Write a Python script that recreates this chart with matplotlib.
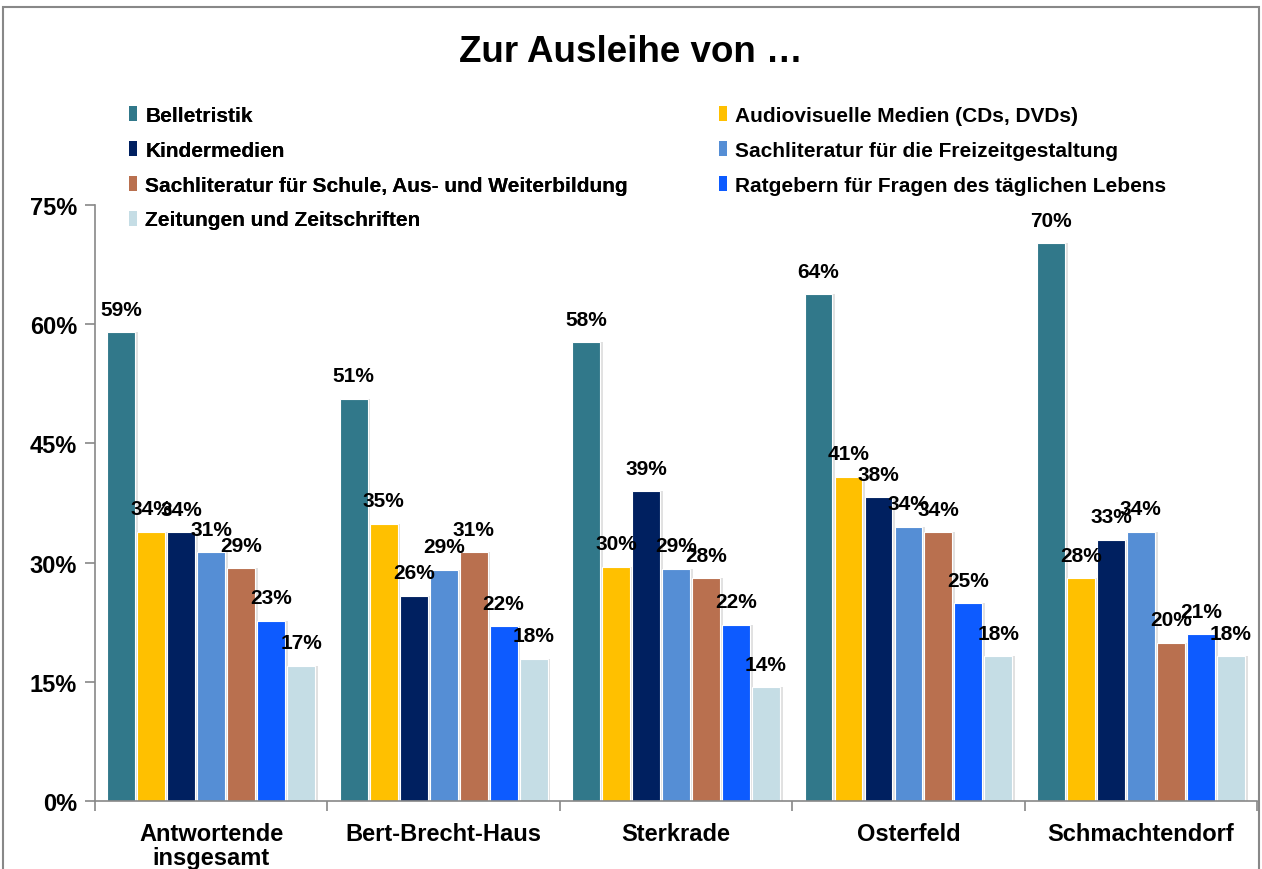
import matplotlib.pyplot as plt
from matplotlib.patches import Patch, Rectangle
import numpy as np

plt.rcParams['font.family'] = ['Liberation Sans', 'DejaVu Sans']
plt.rcParams['font.weight'] = 'bold'

groups = ['Antwortende\ninsgesamt', 'Bert-Brecht-Haus', 'Sterkrade', 'Osterfeld', 'Schmachtendorf']
series = ['Belletristik', 'Audiovisuelle Medien (CDs, DVDs)', 'Kindermedien',
          'Sachliteratur für die Freizeitgestaltung',
          'Sachliteratur für Schule, Aus- und Weiterbildung',
          'Ratgebern für Fragen des täglichen Lebens', 'Zeitungen und Zeitschriften']
colors = ['#31788A', '#FFC000', '#002060', '#558ED5', '#B9704F', '#0D5BFF', '#C5DDE5']

belletristik = [59.0, 50.6, 57.7, 63.8, 70.2]
audiovisuell = [33.9, 34.9, 29.5, 40.8, 28.0]
kindermedien = [33.8, 25.8, 39.0, 38.2, 32.9]
freizeit     = [31.3, 29.1, 29.2, 34.5, 33.9]
schule       = [29.3, 31.3, 28.0, 33.8, 19.9]
ratgeber     = [22.7, 22.0, 22.2, 24.9, 21.0]
zeitungen    = [17.0, 17.9, 14.3, 18.2, 18.2]
values = [belletristik, audiovisuell, kindermedien, freizeit, schule, ratgeber, zeitungen]

fig = plt.figure(figsize=(12.62, 8.70), dpi=100)
ax = fig.add_axes([0.0753, 0.0782, 0.9208, 0.685])

x = np.arange(len(groups))
step = 0.129
width = 0.12
for i, (vals, col) in enumerate(zip(values, colors)):
    pos = x + (i - 3) * step
    # faint shadow to the right of each bar
    ax.bar(pos + 0.012, vals, width, color='#888888', alpha=0.25, zorder=1)
    ax.bar(pos, vals, width, color=col, edgecolor='white', linewidth=0.8, zorder=2)
    for px, v in zip(pos, vals):
        ax.text(px, v + 1.7, f'{v:.0f}%', ha='center', va='bottom',
                fontsize=15, fontweight='bold', zorder=3)

ax.set_xlim(-0.5, len(groups) - 0.5)
ax.set_ylim(0, 75)
ax.set_yticks([0, 15, 30, 45, 60, 75])
ax.set_yticklabels([f'{t}%' for t in [0, 15, 30, 45, 60, 75]], fontsize=17, fontweight='bold')
ax.set_xticks(x)
ax.set_xticklabels(groups, fontsize=17, fontweight='bold', linespacing=1.05)
ax.set_xticks(np.arange(-0.5, len(groups)), minor=True)
ax.tick_params(axis='x', which='major', length=0, pad=15)
ax.tick_params(axis='x', which='minor', length=7, color='#888888', width=1.2)
ax.tick_params(axis='y', length=7, color='#888888', width=1.2, pad=6)
for s in ['top', 'right']:
    ax.spines[s].set_visible(False)
for s in ['left', 'bottom']:
    ax.spines[s].set_color('#888888')
    ax.spines[s].set_linewidth(1.2)

fig.text(0.5, 0.94, 'Zur Ausleihe von …', ha='center', va='center',
         fontsize=26.5, fontweight='bold')

handles = [Patch(facecolor=c) for c in colors]
common = dict(frameon=False, fontsize=15, handlelength=0.38, handleheight=0.75,
              handletextpad=0.4, labelspacing=0.76, borderaxespad=0, borderpad=0)
leg1 = fig.legend([handles[i] for i in (0, 2, 4, 6)], [series[i] for i in (0, 2, 4, 6)],
                  loc='upper left', bbox_to_anchor=(129 / 1262, 1 - 107 / 870), **common)
fig.add_artist(leg1)
fig.legend([handles[i] for i in (1, 3, 5)], [series[i] for i in (1, 3, 5)],
           loc='upper left', bbox_to_anchor=(719 / 1262, 1 - 107 / 870), **common)

fig.patches.append(Rectangle((3 / 1262, -0.01), 1256 / 1262, 1 - 8 / 870 + 0.01,
                             transform=fig.transFigure, fill=False,
                             edgecolor='#888888', linewidth=1.5))

fig.savefig('out.png', dpi=100)
